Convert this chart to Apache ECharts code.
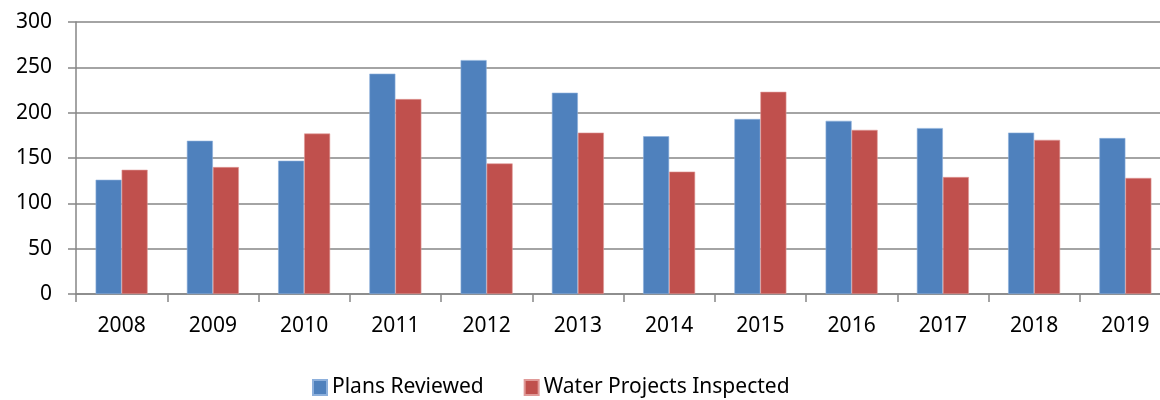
<!DOCTYPE html>
<html>
<head>
<meta charset="utf-8">
<script src="https://cdn.jsdelivr.net/npm/echarts@6/dist/echarts.min.js"></script>
<style>
  html, body { margin: 0; padding: 0; background: #fff; overflow: hidden; }
  #chart { width: 1171px; height: 400px; }
</style>
</head>
<body>
<div id="chart"></div>
<script>
const years = ['2008', '2009', '2010', '2011', '2012', '2013', '2014', '2015', '2016', '2017', '2018', '2019']
const plansReviewed = [126, 169, 147, 243, 258, 222, 174, 193, 191, 183, 178, 172]
const waterInspected = [137, 140, 177, 215, 144, 178, 135, 223, 181, 129, 170, 128]

// plot area runs a little past the right edge of the 1160px window, as in the source
const chart = echarts.init(document.getElementById('chart'))
const font = '"Noto Sans", sans-serif'

chart.setOption({
  animation: false,
  grid: {
    left: 76,
    right: 0,
    top: 22,
    bottom: 106
  },
  legend: {
    left: 307,
    top: 372,
    itemWidth: 14,
    itemHeight: 15,
    itemGap: 40,
    icon: 'rect',
    textStyle: {
      fontFamily: font,
      fontSize: 21,
      color: '#000'
    },
    data: ['Plans Reviewed', 'Water Projects Inspected']
  },
  xAxis: {
    type: 'category',
    data: years,
    axisLine: { lineStyle: { color: '#868686', width: 1.5 } },
    axisTick: { show: true, length: 8, lineStyle: { color: '#868686', width: 1.5 } },
    axisLabel: {
      margin: 22,
      fontFamily: font,
      fontSize: 21,
      color: '#000'
    }
  },
  yAxis: {
    type: 'value',
    min: 0,
    max: 300,
    interval: 50,
    axisLine: { show: true, lineStyle: { color: '#868686', width: 1.5 } },
    axisTick: { show: true, length: 8, lineStyle: { color: '#868686', width: 1.5 } },
    splitLine: { lineStyle: { color: '#868686', width: 1.5 } },
    axisLabel: {
      margin: 24,
      fontFamily: font,
      fontSize: 21,
      color: '#000'
    }
  },
  series: [
    {
      name: 'Plans Reviewed',
      type: 'bar',
      data: plansReviewed,
      barWidth: 26,
      barGap: '0%',
      itemStyle: { color: '#4F81BD', borderColor: '#8DB0DC', borderWidth: 0.6 }
    },
    {
      name: 'Water Projects Inspected',
      type: 'bar',
      data: waterInspected,
      barWidth: 26,
      barGap: '0%',
      itemStyle: { color: '#C0504D', borderColor: '#E09A98', borderWidth: 0.6 }
    }
  ]
})
</script>
</body>
</html>
